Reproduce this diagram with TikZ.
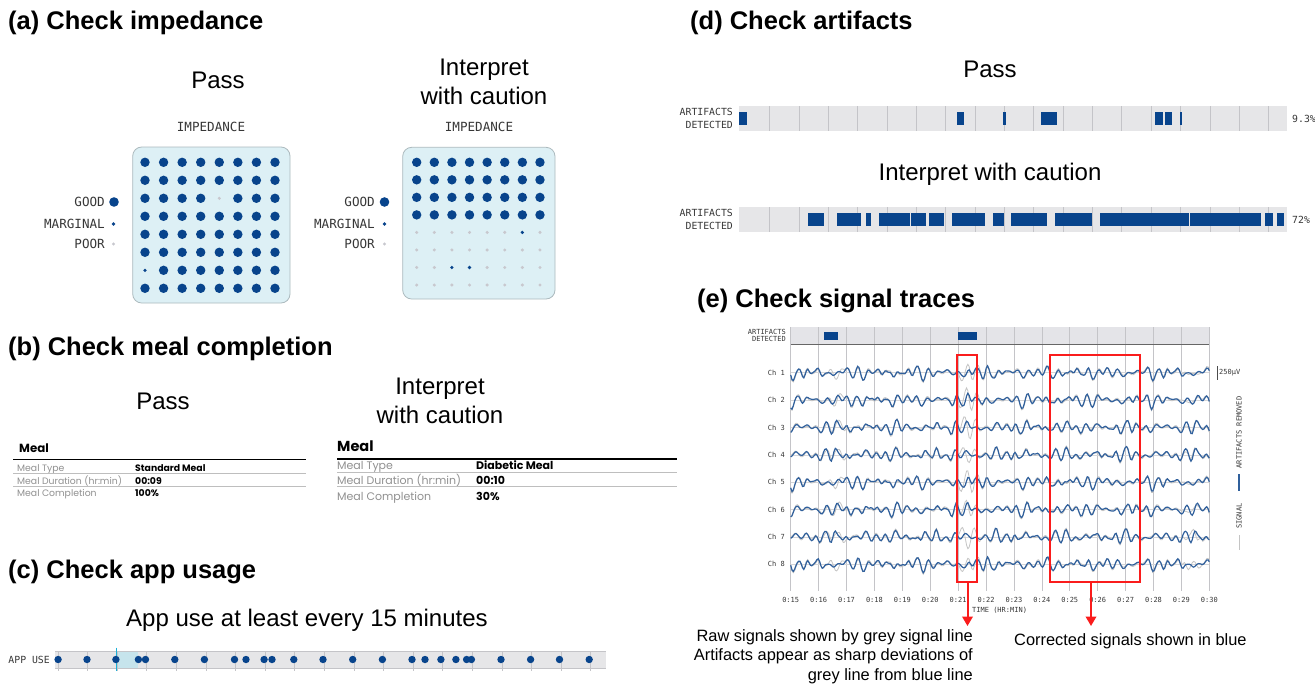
\documentclass[tikz,border=0pt]{standalone}
\usepackage{fontspec}
\setmainfont{Liberation Sans}
\newfontfamily\monof{DejaVu Sans Mono}
\newfontfamily\popf{Poppins}
\usetikzlibrary{arrows.meta}

\definecolor{dotblue}{RGB}{8,68,140}
\definecolor{boxfill}{RGB}{221,240,245}
\definecolor{boxline}{RGB}{172,186,190}
\definecolor{poorgrey}{RGB}{200,200,206}
\definecolor{bargrey}{RGB}{230,230,232}
\definecolor{gridgrey}{RGB}{196,196,200}
\definecolor{sigblue}{RGB}{48,96,156}
\definecolor{siggrey}{RGB}{196,196,196}
\definecolor{redbox}{RGB}{250,28,28}
\definecolor{labgrey}{RGB}{55,55,55}
\definecolor{tablab}{RGB}{145,145,145}
\definecolor{rowline}{RGB}{190,190,190}
\definecolor{apshade}{RGB}{198,228,236}
\definecolor{cyanline}{RGB}{26,176,216}

\pgfmathdeclarefunction{bumpf}{3}{\pgfmathparse{max(0,1-((#1-#2)/#3)*((#1-#2)/#3))}}
\pgfmathdeclarefunction{bsig}{2}{\pgfmathparse{1.2*((0.75+0.45*sin(6*#1+3*#2))*(3.4*sin(36*#1+#2)+1.8*sin(25*#1+2*#2))+1.3*sin(11*#1+2*#2)+2*(0.4+0.6*sin(4*#1+3*#2))*sin(30*#1+#2)*cos(30*#1+#2))}}
\pgfmathdeclarefunction{gsig}{4}{\pgfmathparse{bsig(#1,#2)+1.5*sin(17*#1+3*#2)+#3*bumpf(#1,178,13)*sin(28*#1+2*#2)+5*bumpf(#1,45,14)*sin(33*#1+#2)+#4*bumpf(#1,400,12)*sin(31*#1+#2)}}

\tikzset{
  heading/.style={anchor=base west, inner sep=0, font=\bfseries\fontsize{25.5}{30}\selectfont},
  sub/.style={inner sep=0, align=center, font=\fontsize{24}{29}\selectfont},
  monoA/.style={inner sep=0, text=labgrey, font=\monof\fontsize{12.6}{14}\selectfont},
  monoD/.style={inner sep=0, text=labgrey, align=right, font=\monof\fontsize{9.8}{12.4}\selectfont},
  monoE/.style={inner sep=0, text=labgrey, font=\monof\fontsize{7}{7.6}\selectfont},
  good/.style={circle, fill=dotblue, minimum size=9.4, inner sep=0},
  marg/.style={circle, fill=dotblue, minimum size=3.6, inner sep=0},
  poor/.style={circle, fill=poorgrey, minimum size=3.4, inner sep=0},
  impbox/.style={draw=boxline, fill=boxfill, line width=0.8, rounded corners=9},
  appdot/.style={circle, fill=dotblue, minimum size=7.4, inner sep=0},
  artblock/.style={fill=dotblue},
  bar/.style={fill=bargrey},
  grid/.style={draw=gridgrey, line width=0.7},
  tlabA/.style={anchor=base west, inner sep=0, text=tablab, font=\popf\fontsize{9.3}{11}\selectfont},
  tvalA/.style={anchor=base west, inner sep=0, font=\popf\bfseries\fontsize{9.3}{11}\selectfont},
  tlabB/.style={anchor=base west, inner sep=0, text=tablab, font=\popf\fontsize{11}{13}\selectfont},
  tvalB/.style={anchor=base west, inner sep=0, font=\popf\bfseries\fontsize{11}{13}\selectfont},
  redb/.style={color=redbox, line width=2},
  redarr/.style={color=redbox, line width=2, -{Triangle[width=10.5,length=9.5]}},
  ann/.style={inner sep=0, font=\fontsize{16.4}{19.6}\selectfont},
}

\begin{document}
\begin{tikzpicture}[x=1pt,y=-1pt]
\fill[white] (0,0) rectangle (1315,686);
\useasboundingbox (0,0) rectangle (1315,686);

% ---------------- (a) impedance ----------------
\node[heading] (ha) at (8,29) {(a) Check impedance};
\node[sub] (apass) at (218,80) {Pass};
\node[sub] (acaut) at (484,82) {Interpret\\with caution};

\node[monoA] (imp1) at (211,127) {IMPEDANCE};
\node[monoA] (imp2) at (479,127) {IMPEDANCE};
\draw[impbox] (132.7,147) rectangle (290,303);
\draw[impbox] (402.7,147.3) rectangle (555,299);

\foreach \r in {1,...,8}{\foreach \c in {1,...,8}{
  \pgfmathtruncatemacro\k{\r*10+\c}
  \ifnum\k=35 \def\ty{poor}\else\ifnum\k=71 \def\ty{marg}\else\def\ty{good}\fi\fi
  \node[\ty] (pa-\r-\c) at ({145+(\c-1)*18.57},{162.3+(\r-1)*18.0}) {};
}}
\foreach \r in {1,...,8}{\foreach \c in {1,...,8}{
  \pgfmathtruncatemacro\k{\r*10+\c}
  \ifnum\r<5 \def\ty{good}\else
    \ifnum\k=57 \def\ty{marg}\else\ifnum\k=73 \def\ty{marg}\else\ifnum\k=74 \def\ty{marg}\else\def\ty{poor}\fi\fi\fi\fi
  \node[\ty] (pb-\r-\c) at ({416.7+(\c-1)*17.61},{162.3+(\r-1)*17.53}) {};
}}

\node[monoA, anchor=east] (lg1) at (105,202) {GOOD};
\node[good, minimum size=9.6] (lgd1) at (114,202) {};
\node[monoA, anchor=east] (lm1) at (105,224) {MARGINAL};
\node[marg] (lmd1) at (113.5,224) {};
\node[monoA, anchor=east] (lp1) at (105,244) {POOR};
\node[poor] (lpd1) at (113.5,244) {};

\node[monoA, anchor=east] (lg2) at (375,202) {GOOD};
\node[good, minimum size=9.6] (lgd2) at (384.5,202) {};
\node[monoA, anchor=east] (lm2) at (375,224) {MARGINAL};
\node[marg] (lmd2) at (384.5,224) {};
\node[monoA, anchor=east] (lp2) at (375,244) {POOR};
\node[poor] (lpd2) at (384.5,244) {};

% ---------------- (b) meal ----------------
\node[heading] (hb) at (8,355) {(b) Check meal completion};
\node[sub] (bpass) at (163,401) {Pass};
\node[sub] (bcaut) at (440,401) {Interpret\\with caution};

\node[anchor=base west, inner sep=0, font=\popf\bfseries\fontsize{11.8}{14}\selectfont] (m1) at (19,452) {Meal};
\draw[black, line width=1.1] (13,459.7) -- (306,459.7);
\node[tlabA] (m1a) at (17,471.3) {Meal Type};
\node[tvalA] (m1av) at (135,471.3) {Standard Meal};
\draw[rowline, line width=0.8] (13,473.7) -- (306,473.7);
\node[tlabA] (m1b) at (17,484) {Meal Duration (hr:min)};
\node[tvalA] (m1bv) at (135,484) {00:09};
\draw[rowline, line width=0.8] (13,486.7) -- (306,486.7);
\node[tlabA] (m1c) at (17,496.7) {Meal Completion};
\node[tvalA] (m1cv) at (135,496.7) {100\%};

\node[anchor=base west, inner sep=0, font=\popf\bfseries\fontsize{14.5}{17}\selectfont] (m2) at (337,451) {Meal};
\draw[black, line width=1.1] (337,459) -- (677,459);
\node[tlabB] (m2a) at (337,469.7) {Meal Type};
\node[tvalB] (m2av) at (476,469.7) {Diabetic Meal};
\draw[rowline, line width=0.8] (337,472.7) -- (677,472.7);
\node[tlabB] (m2b) at (337,484.3) {Meal Duration (hr:min)};
\node[tvalB] (m2bv) at (476,484.3) {00:10};
\draw[rowline, line width=0.8] (337,486.7) -- (677,486.7);
\node[tlabB] (m2c) at (337,500) {Meal Completion};
\node[tvalB] (m2cv) at (476,500) {30\%};

% ---------------- (c) app usage ----------------
\node[heading] (hc) at (8,578) {(c) Check app usage};
\node[sub] (ctitle) at (307,620) {App use at least every 15 minutes};
\node[monoD, anchor=east] (applab) at (50,659.5) {APP USE};
\fill[bar] (55,651) rectangle (606,668);
\fill[apshade] (116.6,651) rectangle (137.6,668);
\foreach \i in {0,...,18} \draw[grid] ({58+29.6*\i},651) -- ++(0,19.5);
\draw[gridgrey, line width=0.9] (55,651) -- (606,651);
\draw[gridgrey, line width=0.9] (55,668) -- (606,668);
\draw[cyanline, line width=1.5] (116.6,647.5) -- (116.6,671);
\foreach \x [count=\i] in {58.1,87,115.9,138.4,145.5,174.8,204.4,234.5,246,264.1,272,293.8,323,352.7,382.4,412,425,440.9,455.9,466.6,471.4,501,530.6,559.5,589.2}
  \node[appdot] (ap\i) at (\x,659.5) {};

% ---------------- (d) artifacts ----------------
\node[heading] (hd) at (690,29) {(d) Check artifacts};
\node[sub] (dpass) at (990,69) {Pass};
\node[monoD, anchor=east] (dl1) at (733,118.5) {ARTIFACTS\\DETECTED};
\fill[bar] (739,106) rectangle (1287,131);
\foreach \i in {0,...,17} \draw[grid] ({769.6+29.35*\i},106) -- ++(0,25);
\foreach \a/\b in {739/746.5, 956.9/964.4, 1003.4/1005.5, 1041/1057.4, 1155/1163.4, 1164.7/1172.2, 1180.2/1182.3}
  \fill[artblock] (\a,112) rectangle (\b,125);
\node[monoD, anchor=west] (dp1) at (1292,118.5) {9.3\%};

\node[sub] (dcaut) at (990,174) {Interpret with caution};
\node[monoD, anchor=east] (dl2) at (733,219.5) {ARTIFACTS\\DETECTED};
\fill[bar] (739,207) rectangle (1287,232);
\foreach \i in {0,...,17} \draw[grid] ({769.6+29.35*\i},207) -- ++(0,25);
\foreach \a/\b in {808.1/824.1, 836.6/860.5, 865.5/871.4, 879.4/910, 911.2/925.9, 928.8/944.3, 952.3/984.5, 992.9/1004.2, 1011.2/1046.5, 1054.5/1092.2, 1099.8/1188.6, 1189.8/1261, 1265.2/1273.2, 1277/1284.1}
  \fill[artblock] (\a,213) rectangle (\b,226);
\node[monoD, anchor=west] (dp2) at (1292,219.5) {72\%};

% ---------------- (e) signal traces ----------------
\node[heading] (he) at (697,307) {(e) Check signal traces};
\node[monoE, align=right, anchor=east] (el) at (786,335.5) {ARTIFACTS\\DETECTED};
\fill[fill={rgb,255:red,228;green,228;blue,232}] (790.7,327) rectangle (1209.3,344);
\foreach \i in {0,...,15} \draw[grid] ({790.7+27.907*\i},327) -- ({790.7+27.907*\i},591);
\draw[black!60, line width=0.9] (790.7,344) -- (1209.3,344);
\fill[artblock] (824.3,331.7) rectangle (837.7,340);
\fill[artblock] (958.3,331.7) rectangle (976.7,340);

\foreach \k/\p/\a/\b in {1/10/8/3, 2/37/11/4, 3/64/13/3, 4/81/9/2, 5/23/11/3, 6/52/7/6, 7/88/13/9, 8/5/6/7}{
  \pgfmathsetmacro\yk{372.7+(\k-1)*27.37}
  \draw[gridgrey!70, line width=0.5] (790.7,\yk) -- (1209.3,\yk);
  \draw[siggrey, line width=0.8] plot[domain=0:418.6, samples=320, variable=\u] ({790.7+\u},{\yk+gsig(\u,\p,\a,\b)});
  \draw[sigblue, line width=1.2] plot[domain=0:418.6, samples=320, variable=\u] ({790.7+\u},{\yk+bsig(\u,\p)});
  \node[monoE, anchor=east] (ch\k) at (785,\yk) {Ch \k};
}

\foreach \i in {0,...,15}{
  \pgfmathtruncatemacro\m{15+\i}
  \node[monoE] (tk\i) at ({790.7+27.907*\i},599.5) {0:\m};
}
\node[monoE, anchor=west] (taxis) at (972,610.7) {TIME (HR:MIN)};

\draw[black!70, line width=1.2] (1217.3,366) -- (1217.3,380);
\node[monoE, anchor=west] (scl) at (1219,372.7) {250µV};
\node[monoE, rotate=90] (legar) at (1239,432.5) {ARTIFACTS REMOVED};
\draw[sigblue, line width=1.5] (1239,474) -- (1239,490.7);
\node[monoE, rotate=90] (legsig) at (1239,516) {SIGNAL};
\draw[siggrey, line width=1] (1239,535) -- (1239,550);

% red boxes and arrows
\coordinate (r1a) at (957.4,355);
\coordinate (r1b) at (977.3,581.7);
\coordinate (r2a) at (1050,355);
\coordinate (r2b) at (1139.8,581.7);
\coordinate (r1s) at (967.5,581.7);
\coordinate (r1e) at (967.5,626);
\coordinate (r2s) at (1091,581.7);
\coordinate (r2e) at (1091,626);
\draw[redb] (r1a) rectangle (r1b);
\draw[redb] (r2a) rectangle (r2b);
\draw[redarr] (r1s) -- (r1e);
\draw[redarr] (r2s) -- (r2e);

\node[ann, align=right, anchor=north east] (ann1) at (973,629) {Raw signals shown by grey signal line\\Artifacts appear as sharp deviations of\\grey line from blue line};
\node[ann, anchor=west] (ann2) at (1014,641) {Corrected signals shown in blue};
\end{tikzpicture}
\end{document}
